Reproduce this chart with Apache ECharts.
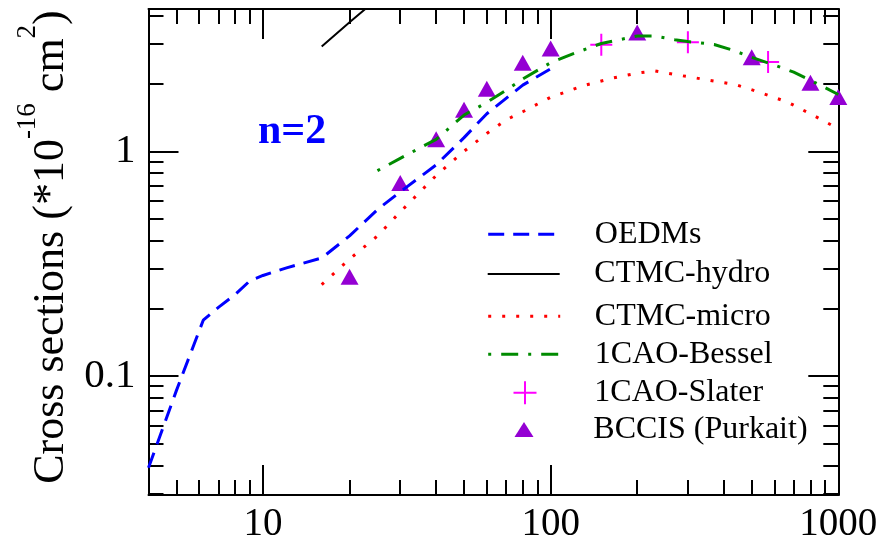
<!DOCTYPE html>
<html><head><meta charset="utf-8">
<script src="https://cdn.jsdelivr.net/npm/echarts@6/dist/echarts.min.js"></script>
<style>html,body{margin:0;padding:0;background:#fff}#c{width:885px;height:544px}</style>
</head><body><div id="c"></div>
<script>
const FONT = '"Liberation Serif", "Times New Roman", Times, serif';

// ---- data ----
const oedmsX = [4, 5, 6.2, 7, 8, 9, 10, 12, 16, 20, 25, 30, 40, 50, 60, 70, 80, 100];
const oedmsY = [0.039, 0.086, 0.177, 0.202, 0.23, 0.265, 0.28, 0.302, 0.335, 0.42, 0.55, 0.66, 0.87, 1.15, 1.47, 1.72, 1.97, 2.33];

const hydroX = [16, 20, 25];
const hydroY = [2.93, 3.75, 4.78];

const microX = [16, 20, 25, 30, 40, 50, 60, 70, 80, 100, 130, 165, 200, 230, 280, 350, 440, 540, 670, 815, 1000];
const microY = [0.255, 0.331, 0.42, 0.537, 0.78, 1.0, 1.2, 1.38, 1.5, 1.74, 1.96, 2.12, 2.23, 2.28, 2.18, 2.08, 1.98, 1.82, 1.65, 1.45, 1.26];

const besselX = [25, 30, 40, 50, 60, 70, 80, 100, 120, 150, 200, 230, 270, 300, 370, 430, 500, 600, 700, 800, 900, 1000];
const besselY = [0.82, 0.93, 1.13, 1.45, 1.65, 1.87, 2.1, 2.48, 2.72, 3.02, 3.26, 3.26, 3.14, 3.08, 2.99, 2.82, 2.62, 2.42, 2.25, 2.07, 1.92, 1.79];

const slaterX = [150, 300, 570];
const slaterY = [2.98, 3.06, 2.5];

const bccisX = [20, 30, 40, 50, 60, 80, 100, 200, 500, 800, 1000];
const bccisY = [0.276, 0.722, 1.13, 1.53, 1.90, 2.48, 2.87, 3.38, 2.62, 2.02, 1.745];

// ---- axes / ticks ----
const xMin = 4, xMax = 1000;
const yMin = 0.0295, yMax = 4.3;
const xMajorTicks = [10, 100, 1000];
const xMinorTicks = [5, 6, 7, 8, 9, 20, 30, 40, 50, 60, 70, 80, 90, 200, 300, 400, 500, 600, 700, 800, 900];
const yMajorTicks = [0.1, 1];
const yMinorTicks = [0.03, 0.04, 0.05, 0.06, 0.07, 0.08, 0.09, 0.2, 0.3, 0.4, 0.5, 0.6, 0.7, 0.8, 0.9, 2, 3, 4];

const names = ['OEDMs', 'CTMC-hydro', 'CTMC-micro', '1CAO-Bessel', '1CAO-Slater', 'BCCIS (Purkait)'];

function pairs(xs, ys) { return xs.map((x, i) => [x, ys[i]]); }
function fmt(v) {
  const e = Math.round(Math.log10(v));
  return e >= 0 ? String(Math.pow(10, e)) : '0.' + '0'.repeat(-e - 1) + '1';
}
function mkAxis(kind, pos, ticks, len, labels, line) {
  const isX = kind === 'x';
  return {
    type: 'log', logBase: 10, position: pos, gridIndex: 0,
    min: isX ? xMin : yMin, max: isX ? xMax : yMax,
    axisLine: { show: line, onZero: false, lineStyle: { color: '#000', width: 2 } },
    axisTick: { show: true, inside: true, length: len, customValues: ticks, lineStyle: { color: '#000', width: 2 } },
    axisLabel: labels ? { show: true, customValues: ticks, formatter: fmt, fontSize: isX ? 39 : 41, fontFamily: FONT, color: '#000', margin: isX ? 10 : 13 } : { show: false },
    splitLine: { show: false }, minorTick: { show: false }, minorSplitLine: { show: false },
    axisPointer: { show: false }
  };
}

const xAxes = [
  mkAxis('x', 'bottom', xMajorTicks, 30, true, true),
  mkAxis('x', 'bottom', xMinorTicks, 15, false, false),
  mkAxis('x', 'top', xMajorTicks, 30, false, true),
  mkAxis('x', 'top', xMinorTicks, 15, false, false)
];
const yAxes = [
  mkAxis('y', 'left', yMajorTicks, 30, true, true),
  mkAxis('y', 'left', yMinorTicks, 15, false, false),
  mkAxis('y', 'right', yMajorTicks, 30, false, true),
  mkAxis('y', 'right', yMinorTicks, 15, false, false)
];
Object.assign(yAxes[0], {
  name: '{a|Cross sections (*10}{s|-16}{a| cm}{s|2}{a|)}',
  nameLocation: 'middle', nameRotate: 90, nameGap: 80,
  nameTextStyle: {
    padding: [0, 0, 0, 10],
    rich: {
      a: { fontSize: 44, fontFamily: FONT, color: '#000', lineHeight: 44, padding: [46, 0, 0, 0] },
      s: { fontSize: 27, fontFamily: FONT, color: '#000', lineHeight: 27 }
    }
  }
});

const lineLegend = (name, top) => ({
  data: [name], left: 486.7, top: top, padding: 0, orient: 'horizontal',
  itemWidth: 72, itemHeight: 20, selectedMode: false,
  itemStyle: { opacity: 0 },
  lineStyle: { width: 3 },
  textStyle: { fontSize: 32, fontFamily: FONT, color: '#000', padding: [0, 0, 0, 29.6] }
});
const symLegend = (name, top, w, h) => ({
  data: [name], left: 524 - w / 2, top: top, padding: 0,
  itemWidth: w, itemHeight: h, selectedMode: false, symbolKeepAspect: false,
  itemStyle: { borderWidth: 2, opacity: 1 },
  textStyle: { fontSize: 32, fontFamily: FONT, color: '#000', padding: [0, 0, 0, 593.3 - (524 - w / 2) - w - 5] }
});

const legends = [
  lineLegend(names[0], 218.3),
  lineLegend(names[1], 258),
  lineLegend(names[2], 300.3),
  lineLegend(names[3], 338.2),
  symLegend(names[4], 376.7, 23, 23),
  symLegend(names[5], 413.5, 19, 15)
];
legends[1].lineStyle = { width: 2 };
legends[5].itemStyle = { borderWidth: 0, opacity: 1 };

const option = {
  animation: false,
  backgroundColor: '#fff',
  title: {
    text: 'n=2', left: 258, top: 111.5, padding: 0,
    textStyle: { fontSize: 42, fontWeight: 'bold', color: '#0000ff', fontFamily: FONT }
  },
  grid: { left: 148.5, right: 46.7, top: 9, bottom: 49, containLabel: false, outerBoundsMode: 'none' },
  xAxis: xAxes,
  yAxis: yAxes,
  legend: legends,
  series: [
    { name: names[0], type: 'line', data: pairs(oedmsX, oedmsY), symbol: 'none', clip: true,
      lineStyle: { color: '#0000ff', width: 3, type: [16, 9] }, itemStyle: { color: '#0000ff' } },
    { name: names[1], type: 'line', data: pairs(hydroX, hydroY), symbol: 'none', clip: true,
      lineStyle: { color: '#000000', width: 2, type: 'solid' }, itemStyle: { color: '#000000' } },
    { name: names[2], type: 'line', data: pairs(microX, microY), symbol: 'none', clip: true,
      lineStyle: { color: '#ff0000', width: 3, type: [3, 11] }, itemStyle: { color: '#ff0000' } },
    { name: names[3], type: 'line', data: pairs(besselX, besselY), symbol: 'none', clip: true,
      lineStyle: { color: '#008b00', width: 3, type: [3, 10, 17, 10] }, itemStyle: { color: '#008b00' } },
    { name: names[4], type: 'scatter', data: pairs(slaterX, slaterY), clip: false,
      symbol: 'path://M11,0L11,22M0,11L22,11', symbolSize: 22,
      itemStyle: { color: 'rgba(0,0,0,0)', borderColor: '#ff00ff', borderWidth: 2, opacity: 1 } },
    { name: names[5], type: 'scatter', data: pairs(bccisX, bccisY), clip: false,
      symbol: 'triangle', symbolSize: [18, 16],
      itemStyle: { color: '#9400d3', borderWidth: 0, opacity: 1 } }
  ]
};

const chart = echarts.init(document.getElementById('c'), null, { renderer: 'canvas' });
chart.setOption(option);
</script>
</body></html>
